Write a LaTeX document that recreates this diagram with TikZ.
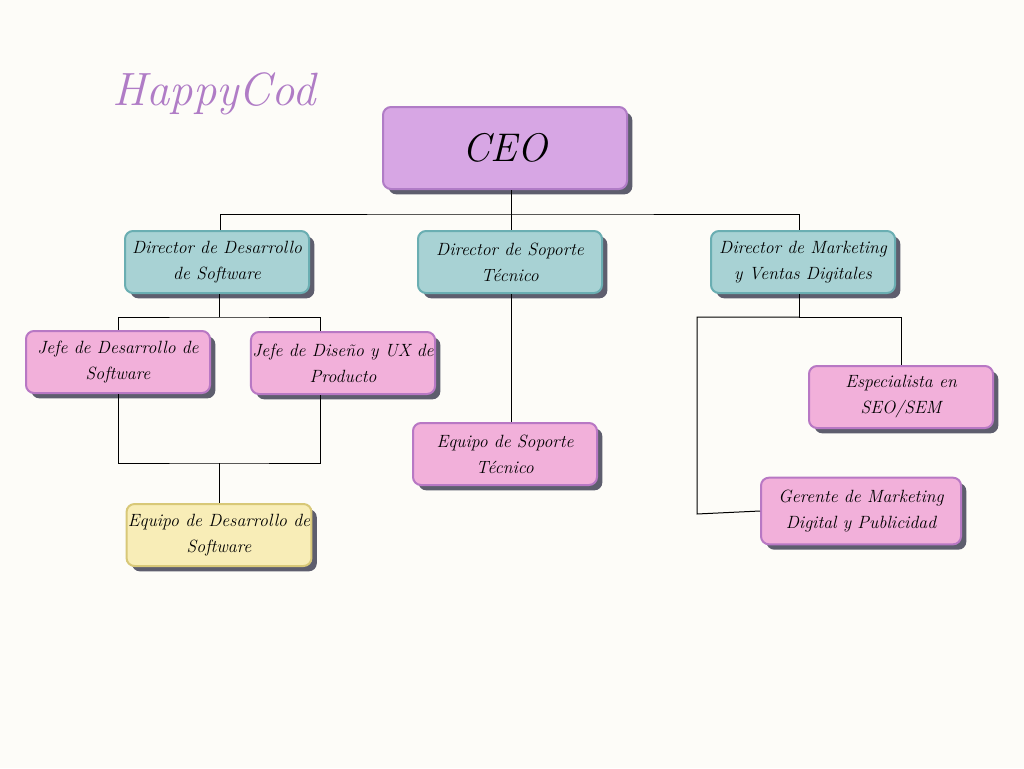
\documentclass[tikz,border=0pt]{standalone}
\usetikzlibrary{shadows}
\definecolor{bgcol}{HTML}{FDFCF8}
\definecolor{lilac}{HTML}{D7A6E4}
\definecolor{lilacdk}{HTML}{B07CC6}
\definecolor{teal1}{HTML}{A8D2D4}
\definecolor{tealdk}{HTML}{6AAEB2}
\definecolor{pink1}{HTML}{F2B0DA}
\definecolor{pinkdk}{HTML}{B878C4}
\definecolor{yell1}{HTML}{F8EDB7}
\definecolor{yelldk}{HTML}{D8C878}
\definecolor{shad}{HTML}{5E5E6E}
\begin{document}
\begin{tikzpicture}[x=0.75pt,y=-0.75pt,line width=0.75pt,
orgbox/.style={draw,rectangle,rounded corners=6pt,line width=1.5pt,align=center,
  minimum width=138pt,minimum height=46.5pt,inner sep=1pt,
  font=\itshape\fontsize{13.3}{19.5}\selectfont,
  drop shadow={shadow xshift=4pt,shadow yshift=-4pt,fill=shad,opacity=1}},
dirbox/.style={orgbox,fill=teal1,draw=tealdk},
jefebox/.style={orgbox,fill=pink1,draw=pinkdk},
teambox/.style={orgbox,fill=yell1,draw=yelldk}]

\fill[bgcol] (0,0) rectangle (1024,768);
\useasboundingbox (0,0) rectangle (1024,768);

\draw (214,94) node[text=lilacdk,font=\itshape\fontsize{35}{38}\selectfont] (title) {HappyCod};
\draw (505,148) node[orgbox,fill=lilac,draw=lilacdk,minimum width=183pt,minimum height=61.5pt,
  font=\itshape\fontsize{30}{32}\selectfont] (ceo) {CEO};

\draw (217,262) node[dirbox] (dirdes) {Director de Desarrollo\\de Software};
\draw (510,262) node[dirbox] (dirsop) {Director de Soporte\\Técnico};
\draw (803,262) node[dirbox] (dirmkt) {Director de Marketing\\y Ventas Digitales};

\draw (118,362) node[jefebox] (jefedes) {Jefe de Desarrollo de\\Software};
\draw (343,363) node[jefebox] (jefedis) {Jefe de Diseño y UX de\\Producto};
\draw (219,535) node[teambox] (eqdes) {Equipo de Desarrollo de\\Software};
\draw (505,454) node[jefebox] (eqsop) {Equipo de Soporte\\Técnico};
\draw (901,397) node[jefebox] (espec) {Especialista en\\SEO/SEM};
\draw (861,511) node[jefebox,minimum width=150pt,minimum height=50pt] (gerente) {Gerente de Marketing\\Digital y Publicidad};

% lines
\coordinate (j1) at (511,214);
\coordinate (j2) at (219,317);
\coordinate (j3) at (219,463);
\coordinate (j4) at (799,317);
\coordinate (j5) at (697,514);

\draw (ceo.south -| j1) -- (j1);
\draw (dirdes.north -| 220,0) |- (j1) -| (dirmkt.north -| j4);
\draw (j1) -- (dirsop.north -| j1);
\draw (dirdes.south -| j2) -- (j2);
\draw (jefedes.north) |- (j2) -| ([xshift=53pt]jefedis.north west);
\draw (jefedes.south) |- (j3) -- ([xshift=53pt]j3 -| jefedis.south west) -- ([xshift=53pt]jefedis.south west);
\draw (j3) -- (eqdes.north);
\draw (dirsop.south -| j1) -- (eqsop.north -| j1);
\draw (dirmkt.south -| j4) -- (j4);
\draw (j4) -| (espec.north);
\draw (j4) -| (j5) -- (gerente.west);
\end{tikzpicture}
\end{document}
